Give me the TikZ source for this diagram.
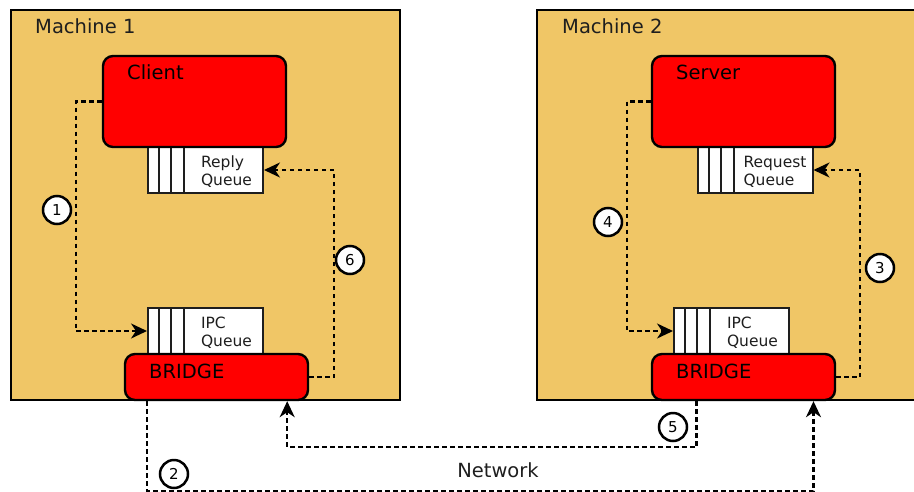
\documentclass[tikz,border=0pt]{standalone}
\usepackage{fontspec}
\setmainfont{DejaVu Sans}
\usetikzlibrary{arrows.meta,calc}
\definecolor{mach}{RGB}{240,198,102}
\definecolor{proccol}{RGB}{255,0,0}
\definecolor{ink}{RGB}{30,30,30}
\begin{document}
\begin{tikzpicture}[x=1pt,y=-1pt,
  machine/.style={draw=black, fill=mach, line width=2.8pt, minimum height=390pt, inner sep=0pt},
  procbox/.style={draw=black, fill=proccol, line width=2.4pt, rounded corners=10pt, minimum width=183pt, inner sep=0pt},
  queuebox/.style={draw=ink, fill=white, line width=2pt, minimum width=115pt, minimum height=46pt, inner sep=0pt},
  qline/.style={draw=ink, line width=2pt},
  flow/.style={line width=2.2pt, dash pattern=on 4.5pt off 3.5pt, -{Stealth[length=16pt,width=15pt,inset=5pt]}},
  num/.style={circle, draw=black, fill=white, line width=2.5pt, minimum size=28pt, inner sep=0pt, font=\fontsize{15}{15}\selectfont},
  big/.style={font=\fontsize{19.5}{22}\selectfont, text=ink, inner sep=0pt},
  small/.style={font=\fontsize{15.5}{18}\selectfont, align=left, text=ink, inner sep=0pt}]

\useasboundingbox (0,0) rectangle (914,491);
\clip (0,0) rectangle (914,491);

% machines
\node[machine, minimum width=389pt] (m1) at (205.5,205) {};
\node[machine, minimum width=393pt] (m2) at (733.5,205) {};
\node[big, anchor=base west] (m1t) at (35,33) {Machine 1};
\node[big, anchor=base west] (m2t) at (562,33) {Machine 2};

% queues
\node[queuebox] (reply) at (205.5,170) {};
\node[queuebox] (ipc1) at (205.5,331) {};
\node[queuebox] (req) at (755,170) {};
\node[queuebox] (ipc2) at (731.5,331) {};
\foreach \q in {reply,ipc1,req,ipc2}{
  \foreach \d in {12,24,37}{
    \draw[qline] ($(\q.north west)+(\d,0)$) -- ($(\q.south west)+(\d,0)$);
  }
}
\node[small] (replyt) at ($(reply.center)+(21,2)$) {Reply\\Queue};
\node[small] (ipc1t) at ($(ipc1.center)+(21,2)$) {IPC\\Queue};
\node[small] (reqt) at ($(req.center)+(20,2)$) {Request\\Queue};
\node[small] (ipc2t) at ($(ipc2.center)+(21,2)$) {IPC\\Queue};

% processes
\node[procbox, minimum height=91pt] (client) at (194.5,101.5) {};
\node[procbox, minimum height=91pt] (server) at (743.5,101.5) {};
\node[procbox, minimum height=46pt] (bridge1) at (216.5,377) {};
\node[procbox, minimum height=46pt] (bridge2) at (743.5,377) {};
\node[big, text=black, anchor=base west] (clientt) at (127,79) {Client};
\node[big, text=black, anchor=base west] (servert) at (676,79) {Server};
\node[big, text=black, anchor=base west] (bridge1t) at (149,378) {BRIDGE};
\node[big, text=black, anchor=base west] (bridge2t) at (676,378) {BRIDGE};

% flows
\draw[flow] (client.west) -- ++(-26,0) |- (ipc1.west);
\draw[flow] (bridge1.east) -- ++(25,0) |- (reply.east);
\draw[flow] (server.west) -- ++(-24,0) |- (ipc2.west);
\draw[flow] (bridge2.east) -- ++(24,0) |- (req.east);
\draw[flow] (ipc1.west |- bridge1.south) -- ++(0,90) -| (req.east |- bridge2.south);
\draw[flow] (req.west |- bridge2.south) -- ++(0,46) -| (client.east |- bridge1.south);

% step numbers
\node[num] (n1) at (57,210) {1};
\node[num] (n2) at (174,474) {2};
\node[num] (n3) at (880,268) {3};
\node[num] (n4) at (608,222) {4};
\node[num] (n5) at (673,427) {5};
\node[num] (n6) at (350,260) {6};

\node[big] (net) at (498,470) {Network};
\end{tikzpicture}
\end{document}
